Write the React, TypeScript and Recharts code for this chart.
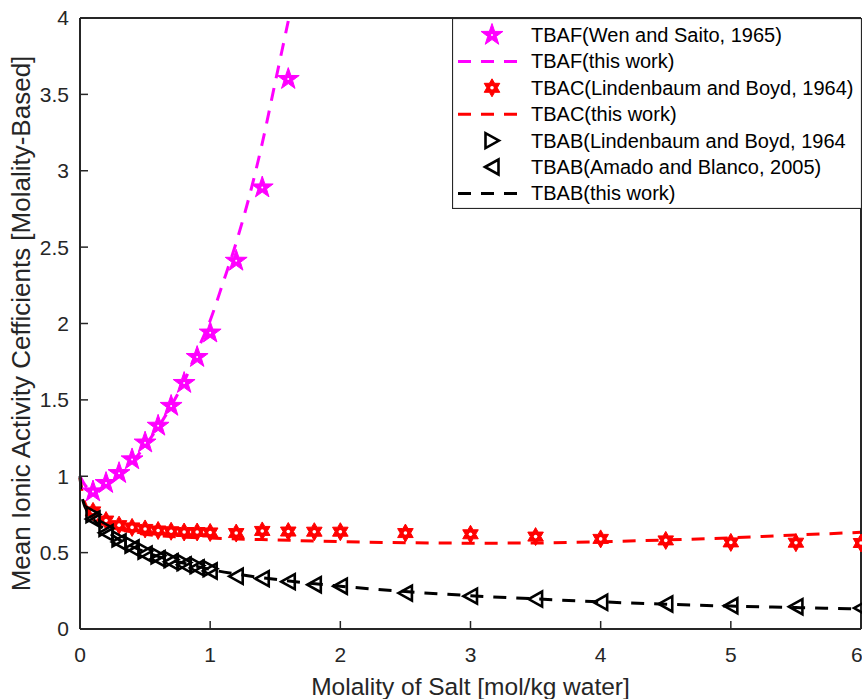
import React from 'react';
import {
  ComposedChart,
  Line,
  Scatter,
  XAxis,
  YAxis,
  Legend,
} from 'recharts';

// axis ticks
const xTicks = [0, 1, 2, 3, 4, 5, 6];
const yTicks = [0, 0.5, 1, 1.5, 2, 2.5, 3, 3.5, 4];

// TBAF (Wen and Saito, 1965) - experimental
const tbafExpX = [0.1, 0.2, 0.3, 0.4, 0.5, 0.6, 0.7, 0.8, 0.9, 1.0, 1.2, 1.4, 1.6];
const tbafExpY = [0.9, 0.955, 1.02, 1.11, 1.22, 1.33, 1.46, 1.61, 1.78, 1.94, 2.41, 2.89, 3.6];

// TBAF model curve
const tbafFitX = [0, 0.05, 0.1, 0.15, 0.2, 0.3, 0.4, 0.5, 0.6, 0.7, 0.8, 0.9, 1.0, 1.1, 1.2, 1.3, 1.4, 1.5, 1.6];
const tbafFitY = [1.0, 0.93, 0.91, 0.915, 0.94, 1.0, 1.09, 1.2, 1.32, 1.46, 1.62, 1.82, 2.02, 2.27, 2.53, 2.83, 3.18, 3.58, 3.98];

// TBAC (Lindenbaum and Boyd, 1964) - experimental
const tbacExpX = [0.1, 0.2, 0.3, 0.4, 0.5, 0.6, 0.7, 0.8, 0.9, 1.0, 1.2, 1.4, 1.6, 1.8, 2.0, 2.5, 3.0, 3.5, 4.0, 4.5, 5.0, 5.5, 6.0];
const tbacExpY = [0.77, 0.71, 0.68, 0.665, 0.655, 0.645, 0.64, 0.635, 0.635, 0.632, 0.628, 0.642, 0.638, 0.637, 0.637, 0.628, 0.62, 0.605, 0.59, 0.58, 0.567, 0.565, 0.563];

// TBAC model curve
const tbacFitX = [0, 0.02, 0.05, 0.1, 0.2, 0.3, 0.4, 0.5, 0.7, 1.0, 1.5, 2.0, 2.5, 3.0, 3.5, 4.0, 4.5, 5.0, 5.5, 6.0];
const tbacFitY = [0.99, 0.88, 0.8, 0.74, 0.685, 0.655, 0.635, 0.62, 0.605, 0.595, 0.583, 0.572, 0.565, 0.562, 0.563, 0.571, 0.583, 0.597, 0.615, 0.633];

// TBAB (Lindenbaum and Boyd, 1964)
const tbabLbX = [0.1, 0.2, 0.3, 0.4, 0.5, 0.6, 0.7, 0.8, 0.9, 1.0];
const tbabLbY = [0.75, 0.66, 0.59, 0.55, 0.51, 0.48, 0.455, 0.435, 0.415, 0.395];

// TBAB (Amado and Blanco, 2005)
const tbabAbX = [0.1, 0.2, 0.3, 0.4, 0.5, 0.6, 0.7, 0.8, 0.9, 1.0, 1.2, 1.4, 1.6, 1.8, 2.0, 2.5, 3.0, 3.5, 4.0, 4.5, 5.0, 5.5, 6.0];
const tbabAbY = [0.72, 0.63, 0.57, 0.53, 0.49, 0.46, 0.44, 0.42, 0.4, 0.38, 0.345, 0.33, 0.31, 0.29, 0.28, 0.235, 0.215, 0.196, 0.175, 0.164, 0.152, 0.146, 0.137];

// TBAB model curve
const tbabFitX = [0, 0.01, 0.03, 0.05, 0.1, 0.2, 0.3, 0.4, 0.5, 0.6, 0.7, 0.8, 0.9, 1.0, 1.2, 1.5, 2.0, 2.5, 3.0, 3.5, 4.0, 4.5, 5.0, 5.5, 6.0];
const tbabFitY = [1.0, 0.9, 0.82, 0.78, 0.72, 0.645, 0.585, 0.54, 0.505, 0.475, 0.45, 0.43, 0.41, 0.39, 0.36, 0.325, 0.28, 0.245, 0.218, 0.197, 0.178, 0.162, 0.15, 0.14, 0.132];

const legendLabels = [
  'TBAF(Wen and Saito, 1965)',
  'TBAF(this work)',
  'TBAC(Lindenbaum and Boyd, 1964)',
  'TBAC(this work)',
  'TBAB(Lindenbaum and Boyd, 1964',
  'TBAB(Amado and Blanco, 2005)',
  'TBAB(this work)',
];

const MAGENTA = '#ff00ff';
const RED = '#ff0000';
const BLACK = '#000000';
const AXIS = '#262626';
const FONT = '"Liberation Sans", Arial, Helvetica, sans-serif';
const DASH = '13 10';

const toPoints = (xs: number[], ys: number[]) => xs.map((x, i) => ({ x, y: ys[i] }));

const tbafExp = toPoints(tbafExpX, tbafExpY);
const tbafFit = toPoints(tbafFitX, tbafFitY);
const tbacExp = toPoints(tbacExpX, tbacExpY);
const tbacFit = toPoints(tbacFitX, tbacFitY);
const tbabLb = toPoints(tbabLbX, tbabLbY);
const tbabAb = toPoints(tbabAbX, tbabAbY);
const tbabFit = toPoints(tbabFitX, tbabFitY);

const Pentagram = ({ cx, cy }: any) => {
  const R = 11.5;
  const r = 4.5;
  const pts: string[] = [];
  for (let k = 0; k < 10; k++) {
    const rad = k % 2 === 0 ? R : r;
    const a = -Math.PI / 2 + (k * Math.PI) / 5;
    pts.push(`${cx + rad * Math.cos(a)},${cy + rad * Math.sin(a)}`);
  }
  return (
    <g>
      <polygon points={pts.join(' ')} fill={MAGENTA} stroke={MAGENTA} strokeWidth={1} />
      <circle cx={cx} cy={cy} r={1} fill="#fff" />
    </g>
  );
};

const Hexagram = ({ cx, cy }: any) => {
  const R = 9;
  const r = R / Math.sqrt(3);
  const pts: string[] = [];
  for (let k = 0; k < 12; k++) {
    const rad = k % 2 === 0 ? R : r;
    const a = -Math.PI / 2 + (k * Math.PI) / 6;
    pts.push(`${cx + rad * Math.cos(a)},${cy + rad * Math.sin(a)}`);
  }
  return (
    <g>
      <polygon points={pts.join(' ')} fill={RED} stroke={RED} strokeWidth={1} />
      <circle cx={cx} cy={cy} r={1.8} fill="#fff" />
    </g>
  );
};

const TriRight = ({ cx, cy }: any) => (
  <polygon
    points={`${cx + 7},${cy} ${cx - 6.5},${cy - 7.5} ${cx - 6.5},${cy + 7.5}`}
    fill="none"
    stroke={BLACK}
    strokeWidth={2.6}
  />
);

const TriLeft = ({ cx, cy }: any) => (
  <polygon
    points={`${cx - 7},${cy} ${cx + 6.5},${cy - 7.5} ${cx + 6.5},${cy + 7.5}`}
    fill="none"
    stroke={BLACK}
    strokeWidth={2.6}
  />
);

const legendItems = [
  { marker: Pentagram, color: MAGENTA },
  { marker: null, color: MAGENTA },
  { marker: Hexagram, color: RED },
  { marker: null, color: RED },
  { marker: TriRight, color: BLACK },
  { marker: TriLeft, color: BLACK },
  { marker: null, color: BLACK },
];

const renderLegend = () => (
  <svg width={410} height={191} style={{ display: 'block' }}>
    <rect x={0.5} y={0.5} width={409} height={190} fill="#fff" stroke={AXIS} strokeWidth={1.2} />
    {legendItems.map((item, i) => {
      const cy = 17 + i * 26.4;
      const M = item.marker;
      return (
        <g key={i}>
          {M ? (
            <M cx={40} cy={cy} />
          ) : (
            <line x1={6} x2={71} y1={cy} y2={cy} stroke={item.color} strokeWidth={3} strokeDasharray={DASH} />
          )}
          <text x={79} y={cy} dominantBaseline="central" fontSize={20} fontFamily={FONT} fill={BLACK}>
            {legendLabels[i]}
          </text>
        </g>
      );
    })}
  </svg>
);

const YTitle = (props: any) => {
  const { x, y, height } = props.viewBox;
  const cx = x + 21;
  const cy = y + height / 2;
  return (
    <text
      x={cx}
      y={cy}
      transform={`rotate(-90, ${cx}, ${cy})`}
      textAnchor="middle"
      dominantBaseline="central"
      fontSize={26}
      fontFamily={FONT}
      fill={AXIS}
    >
      Mean Ionic Activity Cefficients [Molality-Based]
    </text>
  );
};

const XTitle = (props: any) => {
  const { x, y, width } = props.viewBox;
  return (
    <text
      x={x + width / 2}
      y={y + 57}
      textAnchor="middle"
      dominantBaseline="central"
      fontSize={24.5}
      fontFamily={FONT}
      fill={AXIS}
    >
      Molality of Salt [mol/kg water]
    </text>
  );
};

const tickStyle = { fill: AXIS, fontSize: 21, fontFamily: FONT };

const App: React.FC = () => {
  return (
    <div style={{ position: 'absolute', left: 0, top: 0, width: 862, height: 699, background: '#fff' }}>
      <ComposedChart width={862} height={699} margin={{ top: 17, right: 0, bottom: 0, left: 0 }}>
        <XAxis
          dataKey="x"
          type="number"
          domain={[0, 6]}
          ticks={xTicks}
          height={70}
          stroke={AXIS}
          axisLine={{ strokeWidth: 2 }}
          tickLine={{ strokeWidth: 1.5 }}
          tickSize={-8}
          tickMargin={26}
          tick={tickStyle}
          label={{ content: XTitle }}
        />
        <XAxis
          xAxisId="top"
          dataKey="x"
          type="number"
          orientation="top"
          domain={[0, 6]}
          ticks={xTicks}
          height={1}
          stroke={AXIS}
          axisLine={{ strokeWidth: 2 }}
          tickLine={{ strokeWidth: 1.5 }}
          tickSize={-8}
          tick={false}
        />
        <YAxis
          dataKey="y"
          type="number"
          domain={[0, 4]}
          ticks={yTicks}
          width={80}
          stroke={AXIS}
          axisLine={{ strokeWidth: 2 }}
          tickLine={{ strokeWidth: 1.5 }}
          tickSize={-8}
          tickMargin={19}
          tick={tickStyle}
          label={{ content: YTitle }}
        />
        <YAxis
          yAxisId="right"
          dataKey="y"
          type="number"
          orientation="right"
          domain={[0, 4]}
          ticks={yTicks}
          width={1}
          stroke={AXIS}
          axisLine={{ strokeWidth: 2 }}
          tickLine={{ strokeWidth: 1.5 }}
          tickSize={-8}
          tick={false}
        />

        <Scatter data={tbafExp} shape={(p: any) => <Pentagram cx={p.cx} cy={p.cy} />} isAnimationActive={false} />
        <Line data={tbafFit} dataKey="y" type="monotone" stroke={MAGENTA} strokeWidth={3} strokeDasharray={DASH} dot={false} activeDot={false} isAnimationActive={false} />

        <Scatter data={tbacExp} shape={(p: any) => <Hexagram cx={p.cx} cy={p.cy} />} isAnimationActive={false} />
        <Line data={tbacFit} dataKey="y" type="monotone" stroke={RED} strokeWidth={3} strokeDasharray={DASH} dot={false} activeDot={false} isAnimationActive={false} />

        <Scatter data={tbabLb} shape={(p: any) => <TriRight cx={p.cx} cy={p.cy} />} isAnimationActive={false} />
        <Scatter data={tbabAb} shape={(p: any) => <TriLeft cx={p.cx} cy={p.cy} />} isAnimationActive={false} />
        <Line data={tbabFit} dataKey="y" type="monotone" stroke={BLACK} strokeWidth={3} strokeDasharray={DASH} dot={false} activeDot={false} isAnimationActive={false} />

        <Legend
          layout="vertical"
          align="center"
          verticalAlign="middle"
          content={renderLegend}
          wrapperStyle={{ position: 'absolute', left: 452, top: 18, width: 410, height: 191, margin: 0, padding: 0 }}
        />
      </ComposedChart>
    </div>
  );
};

export default App;
